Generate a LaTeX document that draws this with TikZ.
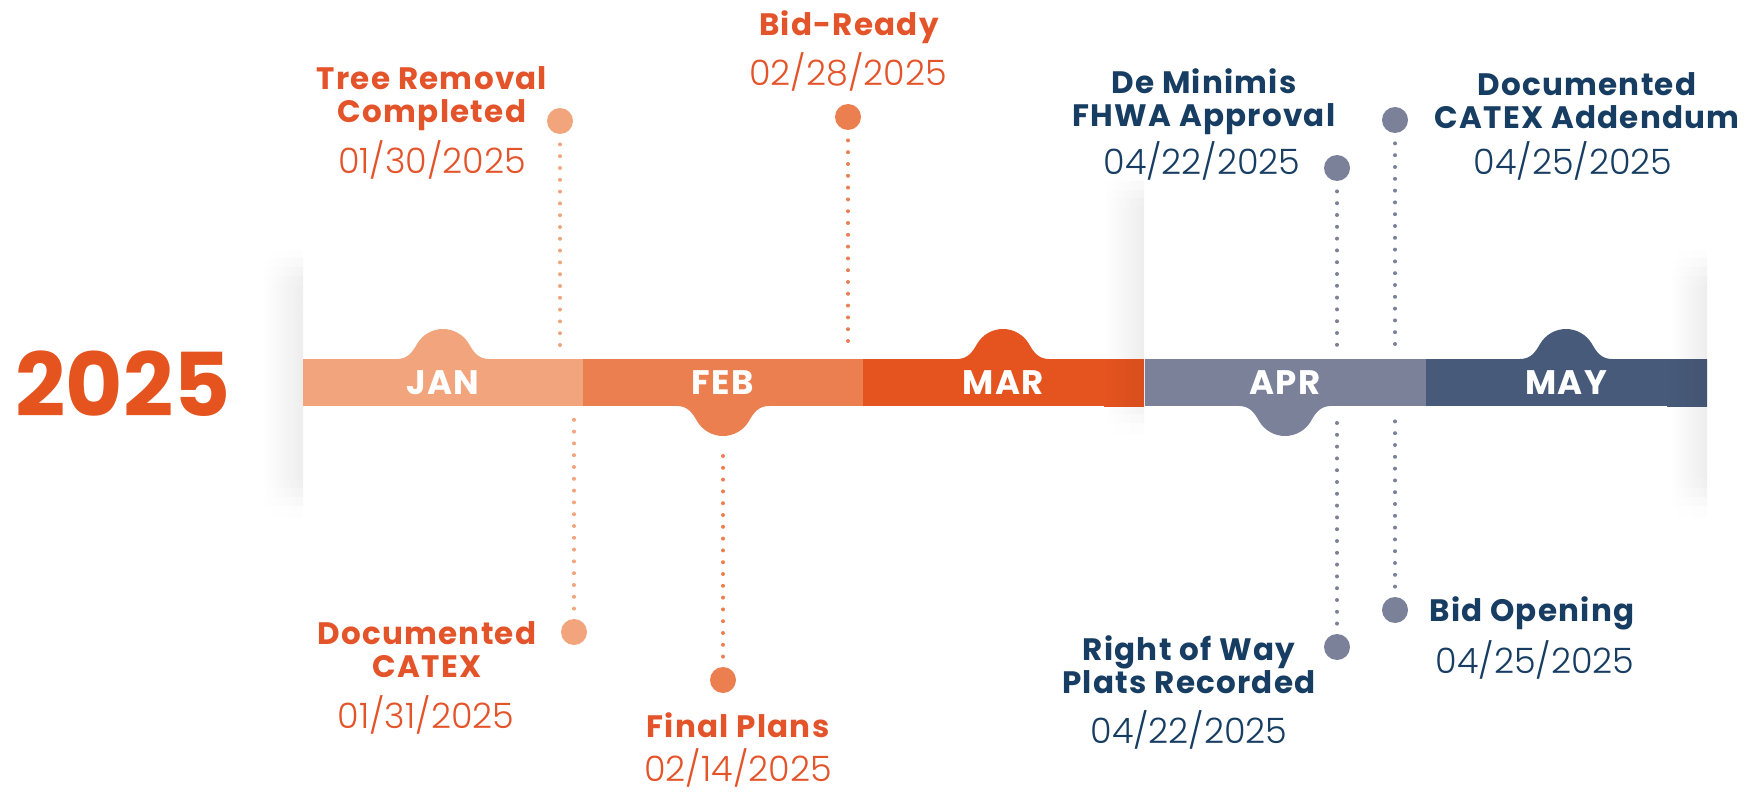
\documentclass[tikz,border=0pt]{standalone}
\usepackage{fontspec}
\setmainfont{Poppins}
\newfontfamily\lightfont{Poppins Light}

\definecolor{janc}{HTML}{F2A47C}
\definecolor{febc}{HTML}{EB7F4F}
\definecolor{marc}{HTML}{E5531F}
\definecolor{aprc}{HTML}{7A8199}
\definecolor{mayc}{HTML}{475A79}
\definecolor{orangetxt}{HTML}{E4542A}
\definecolor{navytxt}{HTML}{173D62}

\newcommand\sidestrip[4]{%
  \foreach \i in {0,...,29}{
    \pgfmathsetmacro\k{7*min(1,2.5*sin(180*(\i+0.5)/30))}
    \pgfmathsetmacro\ya{#3+(#4-#3)*\i/30}
    \pgfmathsetmacro\yc{#3+(#4-#3)*(\i+1)/30+1}
    \shade[left color=white, right color=black!\k] (#1,\ya) rectangle (#2,\yc);
  }}

\tikzset{
  title/.style={inner sep=0pt, align=center, font=\bfseries\fontsize{15.5}{16.5}\selectfont\addfontfeatures{LetterSpace=4}},
  date/.style={inner sep=0pt, font=\lightfont\fontsize{17.5}{20}\selectfont},
  month/.style={inner sep=0pt, minimum width=140.5pt, minimum height=23.5pt, text=white,
    font=\bfseries\fontsize{17}{18}\selectfont\addfontfeatures{LetterSpace=4}},
  dot/.style={circle, inner sep=0pt, minimum size=13pt},
  dots/.style={line width=2pt, line cap=round, dash pattern=on 0pt off 5.9pt, shorten <=5pt}
}

\begin{document}
\begin{tikzpicture}[x=0.5pt, y=-0.5pt]
\useasboundingbox (0,0) rectangle (1758,792);

\sidestrip{262}{303}{250}{515}
\sidestrip{1104}{1144}{173}{432}
\sidestrip{1670}{1707}{250}{515}

\foreach \cx/\col/\s in {443/janc/-1, 723/febc/1, 1003/marc/-1, 1285/aprc/1, 1566/mayc/-1}{
  \pgfmathsetmacro\yb{382.5+23.5*\s}
  \fill[\col] (\cx-46,\yb) .. controls (\cx-36,\yb) and (\cx-31,\yb+6*\s) .. (\cx-26,\yb+15*\s)
    .. controls (\cx-20.6,\yb+24.3*\s) and (\cx-10.7,\yb+30*\s) .. (\cx,\yb+30*\s)
    .. controls (\cx+10.7,\yb+30*\s) and (\cx+20.6,\yb+24.3*\s) .. (\cx+26,\yb+15*\s)
    .. controls (\cx+31,\yb+6*\s) and (\cx+36,\yb) .. (\cx+46,\yb)
    -- (\cx+46,\yb-4*\s) -- (\cx-46,\yb-4*\s) -- cycle;
}

\node[month, fill=janc] (m0) at (443,382.5) {JAN};
\node[month, fill=febc] (m1) at (723,382.5) {FEB};
\node[month, fill=marc] (m2) at (1003,382.5) {MAR};
\node[month, fill=aprc] (m3) at (1285,382.5) {APR};
\node[month, fill=mayc] (m4) at (1566,382.5) {MAY};
\shade[left color=marc, right color=marc!94!black] (1104,359) rectangle (1144,406);
\shade[left color=mayc, right color=mayc!94!black] (1667,359) rectangle (1707,406);

\node[inner sep=0pt, text=marc, font=\bfseries\fontsize{44}{48}\selectfont] (yr) at (123,384) {2025};

\node[dot, fill=janc] (p0) at (560,121) {};
\node[dot, fill=janc] (p1) at (574,632) {};
\node[dot, fill=febc] (p2) at (848,117) {};
\node[dot, fill=febc] (p3) at (723,680) {};
\node[dot, fill=aprc] (p4) at (1337,168) {};
\node[dot, fill=aprc] (p5) at (1337,647) {};
\node[dot, fill=aprc] (p6) at (1395,120) {};
\node[dot, fill=aprc] (p7) at (1395,610) {};

\coordinate (c0) at (560,352);
\coordinate (c1) at (574,413);
\coordinate (c2) at (848,352);
\coordinate (c3) at (723,447);
\coordinate (c4) at (1337,352);
\coordinate (c5) at (1337,413);
\coordinate (c6) at (1395,352);
\coordinate (c7) at (1395,413);

\draw [dots, janc] (p0) edge (c0);
\draw [dots, janc] (p1) edge (c1);
\draw [dots, febc] (p2) edge (c2);
\draw [dots, febc] (p3) edge (c3);
\draw [dots, aprc] (p4) edge (c4);
\draw [dots, aprc] (p5) edge (c5);
\draw [dots, aprc] (p6) edge (c6);
\draw [dots, aprc] (p7) edge (c7);

\node[title, text=orangetxt] (t0) at (432,99) {Tree Removal\\Completed};
\node[date, text=orangetxt] (d0) at (432,160) {01/30/2025};
\node[title, text=orangetxt] (t1) at (427,650) {Documented\\CATEX};
\node[date, text=orangetxt] (d1) at (426,715) {01/31/2025};
\node[title, text=orangetxt] (t2) at (849,27) {Bid-Ready};
\node[date, text=orangetxt] (d2) at (848,72) {02/28/2025};
\node[title, text=orangetxt] (t3) at (738,725) {Final Plans};
\node[date, text=orangetxt] (d3) at (738,768) {02/14/2025};
\node[title, text=navytxt] (t4) at (1204,102) {De Minimis\\FHWA Approval};
\node[date, text=navytxt] (d4) at (1202,161) {04/22/2025};
\node[title, text=navytxt] (t5) at (1189,665) {Right of Way\\Plats Recorded};
\node[date, text=navytxt] (d5) at (1189,730) {04/22/2025};
\node[title, text=navytxt] (t6) at (1587,101) {Documented\\CATEX Addendum};
\node[date, text=navytxt] (d6) at (1573,161) {04/25/2025};
\node[title, text=navytxt, anchor=west] (t7) at (1429,613) {Bid Opening};
\node[date, text=navytxt] (d7) at (1535,660) {04/25/2025};
\end{tikzpicture}
\end{document}
